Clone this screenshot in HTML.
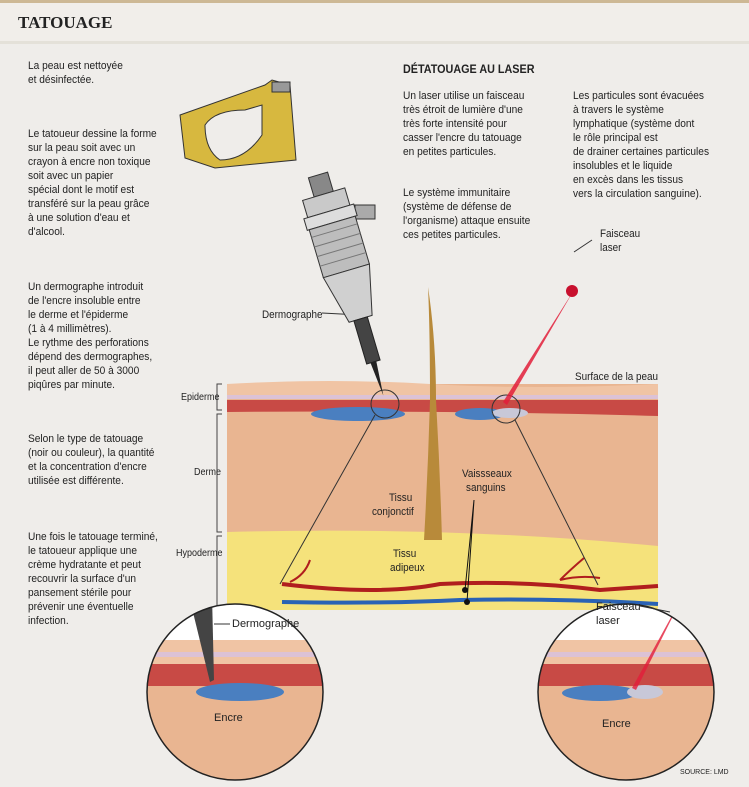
<!DOCTYPE html>
<html><head><meta charset="utf-8"><style>
body{margin:0;width:749px;height:782px;background:#efedea;font-family:"Liberation Sans",sans-serif;overflow:hidden}
svg text{font-family:"Liberation Sans",sans-serif}
</style></head><body>
<svg width="749" height="782" viewBox="0 0 749 782" xmlns="http://www.w3.org/2000/svg">
<rect x="0" y="0" width="749" height="782" fill="#efedea"/>
<rect x="0" y="0" width="749" height="3" fill="#cdb895"/>
<rect x="0" y="3" width="749" height="38" fill="#f1eeea"/>
<rect x="0" y="41" width="749" height="3" fill="#e4e1d9"/>
<text x="18" y="28" font-size="17" font-weight="bold" fill="#222" style="font-family:'Liberation Serif',serif">TATOUAGE</text>
<g font-size="11.3" fill="#222">
<g transform="translate(28,0) scale(0.9,1) translate(-28,0)">
<text x="28" y="69">La peau est nettoyée</text><text x="28" y="83">et désinfectée.</text>
<text x="28" y="137">Le tatoueur dessine la forme</text><text x="28" y="151">sur la peau soit avec un</text><text x="28" y="165">crayon à encre non toxique</text><text x="28" y="179">soit avec un papier</text><text x="28" y="193">spécial dont le motif est</text><text x="28" y="207">transféré sur la peau grâce</text><text x="28" y="221">à une solution d'eau et</text><text x="28" y="235">d'alcool.</text>
<text x="28" y="290">Un dermographe introduit</text><text x="28" y="304">de l'encre insoluble entre</text><text x="28" y="318">le derme et l'épiderme</text><text x="28" y="332">(1 à 4 millimètres).</text><text x="28" y="346">Le rythme des perforations</text><text x="28" y="360">dépend des dermographes,</text><text x="28" y="374">il peut aller de 50 à 3000</text><text x="28" y="388">piqûres par minute.</text>
<text x="28" y="442">Selon le type de tatouage</text><text x="28" y="456">(noir ou couleur), la quantité</text><text x="28" y="470">et la concentration d'encre</text><text x="28" y="484">utilisée est différente.</text>
<text x="28" y="540">Une fois le tatouage terminé,</text><text x="28" y="554">le tatoueur applique une</text><text x="28" y="568">crème hydratante et peut</text><text x="28" y="582">recouvrir la surface d'un</text><text x="28" y="596">pansement stérile pour</text><text x="28" y="610">prévenir une éventuelle</text><text x="28" y="624">infection.</text>
</g>
<g transform="translate(403,0) scale(0.9,1) translate(-403,0)">
<text x="403" y="73" font-weight="bold" font-size="12">DÉTATOUAGE AU LASER</text>
<text x="403" y="99">Un laser utilise un faisceau</text><text x="403" y="113">très étroit de lumière d'une</text><text x="403" y="127">très forte intensité pour</text><text x="403" y="141">casser l'encre du tatouage</text><text x="403" y="155">en petites particules.</text>
<text x="403" y="196">Le système immunitaire</text><text x="403" y="210">(système de défense de</text><text x="403" y="224">l'organisme) attaque ensuite</text><text x="403" y="238">ces petites particules.</text>
</g>
<g transform="translate(573,0) scale(0.9,1) translate(-573,0)">
<text x="573" y="99">Les particules sont évacuées</text><text x="573" y="113">à travers le système</text><text x="573" y="127">lymphatique (système dont</text><text x="573" y="141">le rôle principal est</text><text x="573" y="155">de drainer certaines particules</text><text x="573" y="169">insolubles et le liquide</text><text x="573" y="183">en excès dans les tissus</text><text x="573" y="197">vers la circulation sanguine).</text>
</g>
</g>
<!-- skin block -->
<rect x="227" y="384" width="431" height="226" fill="#e9b591"/>
<path d="M227 384 Q330 378 430 384 T658 384 V398 H227Z" fill="#f0c4a4"/>
<rect x="227" y="395" width="431" height="4" fill="#dcc2d6"/>
<path d="M227 400 H658 V416 Q450 410 227 412Z" fill="#c84a45"/>
<path d="M227 532 Q450 526 658 546 V610 H227Z" fill="#f5e27b"/>
<ellipse cx="358" cy="414" rx="47" ry="7" fill="#4a7fc0"/>
<ellipse cx="480" cy="414" rx="25" ry="6" fill="#4a7fc0"/>
<ellipse cx="510" cy="413" rx="18" ry="5" fill="#c8c8d8"/>
<circle cx="385" cy="404" r="14" fill="none" stroke="#333" stroke-width="1"/>
<circle cx="506" cy="409" r="14" fill="none" stroke="#333" stroke-width="1"/>
<path d="M428 287 Q436 340 436 400 Q440 470 442 540 L424 540 Q428 470 430 400 Q430 330 428 287Z" fill="#b88a3a"/>
<path d="M282 584 Q380 596 440 584 Q520 580 600 590 L658 586" stroke="#b01e1e" stroke-width="4" fill="none"/>
<path d="M290 582 Q305 575 310 560 M560 580 Q570 570 584 558 M560 580 Q580 575 600 578" stroke="#b01e1e" stroke-width="2" fill="none"/>
<path d="M282 602 Q380 604 460 600 Q560 598 658 604" stroke="#2a62b5" stroke-width="4" fill="none"/>
<circle cx="465" cy="590" r="3" fill="#111"/><circle cx="467" cy="602" r="3" fill="#111"/>
<path d="M465 590 L474 500 M467 602 L474 500" stroke="#111" stroke-width="1"/>
<path d="M222 384 H217 V410 H222 M222 414 H217 V532 H222 M222 536 H217 V610" stroke="#444" fill="none"/>
<g fill="#222" font-size="10">
<g transform="translate(0,0)">
<text x="181" y="400" transform="translate(181,0) scale(0.9,1) translate(-181,0)">Epiderme</text>
<text x="194" y="475" transform="translate(194,0) scale(0.9,1) translate(-194,0)">Derme</text>
<text x="176" y="556" transform="translate(176,0) scale(0.9,1) translate(-176,0)">Hypoderme</text>
</g>
<g font-size="11">
<text x="575" y="380" transform="translate(575,0) scale(0.9,1) translate(-575,0)">Surface de la peau</text>
<text x="389" y="501" transform="translate(389,0) scale(0.9,1) translate(-389,0)">Tissu</text>
<text x="372" y="515" transform="translate(372,0) scale(0.9,1) translate(-372,0)">conjonctif</text>
<text x="393" y="557" transform="translate(393,0) scale(0.9,1) translate(-393,0)">Tissu</text>
<text x="390" y="571" transform="translate(390,0) scale(0.9,1) translate(-390,0)">adipeux</text>
<text x="462" y="477" transform="translate(462,0) scale(0.9,1) translate(-462,0)">Vaissseaux</text>
<text x="466" y="491" transform="translate(466,0) scale(0.9,1) translate(-466,0)">sanguins</text>
<text x="600" y="237" transform="translate(600,0) scale(0.9,1) translate(-600,0)">Faisceau</text>
<text x="600" y="251" transform="translate(600,0) scale(0.9,1) translate(-600,0)">laser</text>
<text x="262" y="318" transform="translate(262,0) scale(0.9,1) translate(-262,0)">Dermographe</text>
</g></g>
<path d="M574 252 L592 240 M322 313 L360 315" stroke="#333"/>
<path d="M574 290 L507 405 L503 402Z" fill="#e21d3a" opacity="0.85"/>
<circle cx="572" cy="291" r="6" fill="#c8102e"/>
<!-- tattoo machine -->
<path d="M180 115 L265 85 L272 80 L290 85 L296 160 L215 168 L185 158Z" fill="#d7b83f" stroke="#333"/>
<path d="M205 125 Q215 110 245 110 L262 105 L262 135 Q245 160 220 160 Q205 150 205 125Z" fill="#efedea" stroke="#333"/>
<rect x="272" y="82" width="18" height="10" fill="#999" stroke="#333"/>
<rect x="355" y="205" width="20" height="14" fill="#aaa" stroke="#333"/>
<g transform="translate(318,175) rotate(-16.5)">
<rect x="-10" y="0" width="20" height="20" fill="#888" stroke="#333"/>
<rect x="-22" y="20" width="44" height="18" fill="#c9c9c9" stroke="#333"/>
<rect x="-26" y="38" width="52" height="12" fill="#ddd" stroke="#333"/>
<rect x="-24" y="50" width="48" height="50" fill="#bdbdbd" stroke="#333"/>
<path d="M-24 58 H24 M-24 68 H24 M-24 78 H24 M-24 88 H24" stroke="#777"/>
<path d="M-24 100 L24 100 L12 150 L-12 150Z" fill="#d0d0d0" stroke="#333"/>
<rect x="-7" y="150" width="14" height="45" fill="#444" stroke="#222"/>
<path d="M-3 195 L3 195 L0 230Z" fill="#222"/>
</g>
<path d="M375 415 L280 584 M515 420 L598 585" stroke="#333" stroke-width="1"/>
<defs><clipPath id="cl"><circle cx="235" cy="692" r="88"/></clipPath><clipPath id="cr"><circle cx="626" cy="692" r="88"/></clipPath></defs>
<g clip-path="url(#cl)"><rect x="140" y="600" width="200" height="190" fill="#fff"/>
<rect x="140" y="640" width="200" height="40" fill="#f0c4a4"/><rect x="140" y="652" width="200" height="5" fill="#dcc2d6"/>
<rect x="140" y="664" width="200" height="22" fill="#c84a45"/><rect x="140" y="686" width="200" height="100" fill="#e9b591"/>
<ellipse cx="240" cy="692" rx="44" ry="9" fill="#4a7fc0"/>
<path d="M190 600 L212 595 L214 680 L210 682Z" fill="#444"/></g>
<circle cx="235" cy="692" r="88" fill="none" stroke="#222" stroke-width="1.5"/>
<g clip-path="url(#cr)"><rect x="530" y="600" width="200" height="190" fill="#fff"/>
<rect x="530" y="640" width="200" height="40" fill="#f0c4a4"/><rect x="530" y="652" width="200" height="5" fill="#dcc2d6"/>
<rect x="530" y="664" width="200" height="22" fill="#c84a45"/><rect x="530" y="686" width="200" height="100" fill="#e9b591"/>
<ellipse cx="600" cy="693" rx="38" ry="8" fill="#4a7fc0"/><ellipse cx="645" cy="692" rx="18" ry="7" fill="#c8c8d8"/>
<path d="M685 592 L636 690 L632 688Z" fill="#e21d3a" opacity="0.8"/></g>
<circle cx="626" cy="692" r="88" fill="none" stroke="#222" stroke-width="1.5"/>
<g font-size="11" fill="#222"><text x="232" y="627">Dermographe</text><text x="214" y="721">Encre</text>
<text x="596" y="610">Faisceau</text><text x="596" y="624">laser</text><text x="602" y="727">Encre</text>
<text x="680" y="774" font-size="7">SOURCE: LMD</text></g>
<path d="M230 624 L214 624 M640 606 L670 612" stroke="#333"/>
</svg>
</body></html>
